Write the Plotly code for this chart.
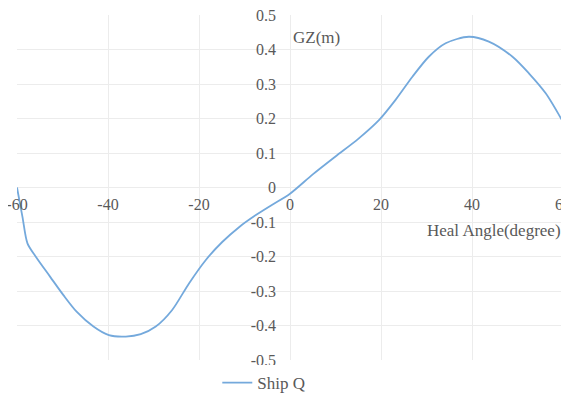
import plotly.graph_objects as go

heel_angle = [-60, -58.8, -57.7, -55.9, -52.7, -49.8, -46.9, -43.2, -39.8, -36.1,
              -32.8, -29.5, -25.9, -22.2, -18.5, -14.9, -11.2, -7.5, -3.9, 0,
              5.0, 10.0, 15.0, 19.6, 23.2, 26.9, 30.5, 34.2, 39.3, 43.7,
              48.9, 52.5, 56.2, 60]
gz = [0.0, -0.085, -0.162, -0.2, -0.259, -0.312, -0.36, -0.403, -0.428, -0.432,
      -0.425, -0.403, -0.355, -0.278, -0.21, -0.158, -0.115, -0.08, -0.05, -0.018,
      0.038, 0.09, 0.141, 0.196, 0.254, 0.321, 0.379, 0.418, 0.437, 0.423,
      0.379, 0.331, 0.273, 0.19]

x_ticks = [-60, -40, -20, 0, 20, 40, 60]
x_tick_text = ["-60", "-40", "-20", "0", "20", "40", "60"]
y_ticks = [0.5, 0.4, 0.3, 0.2, 0.1, 0, -0.1, -0.2, -0.3, -0.4, -0.5]
y_tick_text = ["0.5", "0.4", "0.3", "0.2", "0.1", "0", "-0.1", "-0.2", "-0.3", "-0.4", "-0.5"]

series_name = "Ship Q"
font_family = "Liberation Serif, Times New Roman, serif"
text_color = "#595959"
grid_color = "#ececec"

fig = go.Figure()
fig.add_trace(go.Scatter(
    x=heel_angle, y=gz, mode="lines", name=series_name,
    line=dict(color="#74a9dc", width=1.8, shape="spline", smoothing=0.8),
))

fig.update_layout(
    width=561, height=386,
    margin=dict(l=9, r=6, t=7, b=34, autoexpand=False),
    paper_bgcolor="white", plot_bgcolor="white",
    font=dict(family=font_family, size=16, color=text_color),
    showlegend=True,
    legend=dict(orientation="h", x=0.452, xanchor="center", y=-0.0667, yanchor="middle",
                font=dict(size=17, color=text_color), itemwidth=30),
    xaxis=dict(range=[-60, 60], tickvals=x_ticks, ticktext=x_tick_text,
               showgrid=True, gridcolor=grid_color, gridwidth=1,
               zeroline=True, zerolinecolor=grid_color, zerolinewidth=1,
               showline=False, anchor="free", position=0.5,
               ticks="", ticklabelstandoff=5, ticklabeloverflow="allow",
               tickfont=dict(size=16)),
    yaxis=dict(range=[-0.5, 0.5], tickvals=y_ticks, ticktext=y_tick_text,
               showgrid=True, gridcolor=grid_color, gridwidth=1,
               zeroline=True, zerolinecolor=grid_color, zerolinewidth=1,
               showline=False, anchor="free", position=0.5,
               ticks="", ticklabelstandoff=14, ticklabeloverflow="allow",
               tickfont=dict(size=16)),
    annotations=[
        dict(text="GZ(m)", x=0.2, y=0.436, xref="x", yref="y", xanchor="left",
             yanchor="middle", showarrow=False, font=dict(size=17, color=text_color)),
        dict(text="Heal Angle(degree)", x=60, y=-0.126, xref="x", yref="y",
             xanchor="right", yanchor="middle", showarrow=False,
             font=dict(size=17, color=text_color)),
    ],
)

fig.write_html("out.html")
